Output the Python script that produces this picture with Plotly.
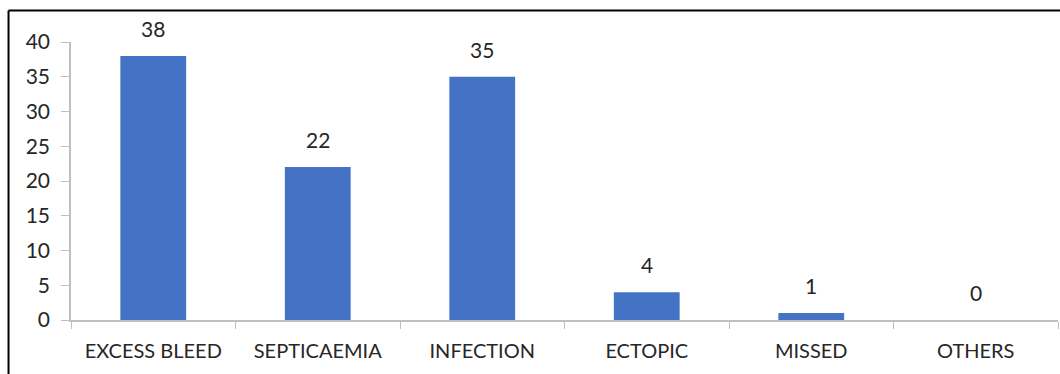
import plotly.graph_objects as go

categories = ["EXCESS BLEED", "SEPTICAEMIA", "INFECTION", "ECTOPIC", "MISSED", "OTHERS"]
counts = [38, 22, 35, 4, 1, 0]
y_ticks = [0, 5, 10, 15, 20, 25, 30, 35, 40]

FONT = "Lato, 'Open Sans', Arial, sans-serif"
TEXT = "#262626"
AXIS = "#BFBFBF"

fig = go.Figure(
    go.Bar(
        x=categories,
        y=counts,
        marker=dict(color="#4472C4", line=dict(width=0)),
        hoverinfo="skip",
    )
)

# value labels above each bar
for cat, val in zip(categories, counts):
    fig.add_annotation(
        x=cat, y=val, text=str(val), showarrow=False,
        yanchor="bottom", yshift=13,
        font=dict(family=FONT, size=21, color=TEXT),
    )

# outer frame (left and top edges visible)
frame = dict(type="line", xref="paper", yref="paper",
             line=dict(color="#000000", width=2), layer="above")
fig.add_shape(**frame, x0=-0.0633, x1=-0.0633, y0=1.1133, y1=-0.25)
fig.add_shape(**frame, x0=-0.0633, x1=1.05, y0=1.1133, y1=1.1133)

fig.update_layout(
    width=1060, height=374,
    margin=dict(l=71, r=2, t=42, b=54),
    paper_bgcolor="white", plot_bgcolor="white",
    bargap=0.6,
    showlegend=False,
    font=dict(family=FONT, size=20, color=TEXT),
    xaxis=dict(
        showline=True, linecolor=AXIS, linewidth=1.5,
        ticks="outside", tickson="boundaries", ticklen=7, tickcolor=AXIS,
        tickfont=dict(family=FONT, size=20, color=TEXT),
        ticklabelstandoff=12,
        showgrid=False, zeroline=False,
    ),
    yaxis=dict(
        range=[0, 40], tickvals=y_ticks,
        showline=True, linecolor=AXIS, linewidth=1.5,
        ticks="outside", ticklen=8, tickcolor=AXIS,
        tickfont=dict(family=FONT, size=21, color=TEXT),
        ticklabelstandoff=7,
        showgrid=False, zeroline=False,
    ),
)

fig.write_html("out.html")
